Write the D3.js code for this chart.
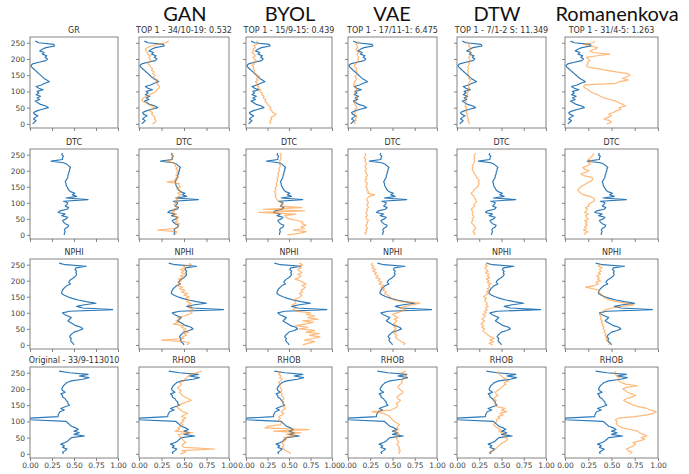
<!DOCTYPE html>
<html>
<head>
<meta charset="utf-8">
<script src="https://cdn.jsdelivr.net/npm/d3@7"></script>
<style>
  html, body { margin: 0; padding: 0; background: #fff; }
  svg { display: block; }
</style>
</head>
<body>
<svg id="chart" width="689" height="474"></svg>
<script>
// Sample index along the well (every 5th sample)
const depth = [0,5,10,15,20,25,30,35,40,45,50,55,60,65,70,75,80,85,90,95,100,105,110,115,120,125,
  130,135,140,145,150,155,160,165,170,175,180,185,190,195,200,205,210,215,220,225,230,235,240,245,250,255];

// Query well 33/9-113010, normalised logs
const grOriginal = [0.03,0.05,0.07,0.04,0.06,0.09,0.05,0.04,0.08,0.14,0.21,0.18,0.12,0.09,0.06,0.11,0.08,0.12,0.07,0.10,
  0.08,0.15,0.10,0.07,0.13,0.17,0.22,0.19,0.16,0.14,0.12,0.10,0.08,0.06,0.04,0.02,0.01,0.03,0.10,0.18,
  0.20,0.17,0.19,0.14,0.16,0.11,0.14,0.18,0.28,0.27,0.10,0.06];
const dtcOriginal = [0.39,0.39,0.40,0.39,0.40,0.43,0.44,0.40,0.38,0.37,0.41,0.43,0.36,0.40,0.32,0.34,0.42,0.44,0.40,0.42,
  0.43,0.38,0.66,0.41,0.53,0.48,0.51,0.46,0.44,0.43,0.42,0.41,0.41,0.40,0.41,0.42,0.43,0.43,0.44,0.44,
  0.45,0.45,0.46,0.44,0.42,0.38,0.24,0.37,0.37,0.38,0.36,0.37];
const nphiOriginal = [0.50,0.49,0.47,0.46,0.47,0.45,0.46,0.48,0.50,0.56,0.60,0.58,0.52,0.49,0.46,0.43,0.45,0.47,0.43,0.39,
  0.37,0.45,0.94,0.60,0.53,0.62,0.75,0.64,0.55,0.48,0.43,0.39,0.36,0.36,0.37,0.38,0.40,0.42,0.46,0.44,
  0.45,0.47,0.50,0.52,0.53,0.52,0.53,0.51,0.52,0.64,0.40,0.33];
const rhobOriginal = [0.38,0.37,0.40,0.42,0.37,0.39,0.35,0.40,0.43,0.45,0.47,0.62,0.50,0.56,0.50,0.55,0.52,0.47,0.45,0.43,
  0.41,0.00,0.00,0.32,0.32,0.33,0.34,0.39,0.35,0.40,0.45,0.43,0.43,0.41,0.40,0.37,0.37,0.35,0.40,0.37,
  0.36,0.37,0.38,0.40,0.42,0.47,0.60,0.67,0.56,0.66,0.45,0.33];

// Top-1 retrieved wells, GR
const ganGR = [0.15,0.18,0.19,0.17,0.18,0.16,0.14,0.15,0.12,0.14,0.17,0.15,0.10,0.08,0.04,0.03,0.05,0.09,0.12,0.16,
  0.19,0.20,0.22,0.23,0.21,0.20,0.19,0.21,0.17,0.16,0.18,0.15,0.17,0.14,0.15,0.13,0.12,0.10,0.11,0.13,
  0.12,0.11,0.13,0.10,0.09,0.08,0.07,0.09,0.14,0.20,0.30,0.33];
const byolGR = [0.27,0.29,0.28,0.30,0.29,0.33,0.35,0.31,0.30,0.28,0.29,0.27,0.25,0.24,0.22,0.23,0.20,0.21,0.18,0.19,
  0.16,0.17,0.14,0.15,0.12,0.13,0.11,0.14,0.12,0.16,0.13,0.11,0.09,0.10,0.08,0.09,0.07,0.10,0.09,0.12,
  0.10,0.08,0.11,0.09,0.07,0.09,0.08,0.11,0.09,0.12,0.14,0.12];
const vaeGR = [0.08,0.07,0.09,0.08,0.10,0.09,0.07,0.08,0.09,0.08,0.10,0.09,0.08,0.07,0.09,0.08,0.10,0.09,0.08,0.07,
  0.08,0.10,0.09,0.07,0.06,0.08,0.07,0.09,0.10,0.08,0.09,0.11,0.10,0.09,0.10,0.08,0.07,0.09,0.10,0.12,
  0.11,0.12,0.11,0.10,0.12,0.10,0.09,0.11,0.10,0.09,0.11,0.12];
const dtwGR = [0.13,0.14,0.12,0.13,0.12,0.11,0.12,0.10,0.11,0.10,0.11,0.09,0.10,0.09,0.10,0.09,0.11,0.10,0.12,0.11,
  0.13,0.12,0.14,0.13,0.14,0.13,0.14,0.15,0.13,0.14,0.13,0.12,0.13,0.12,0.13,0.12,0.13,0.14,0.13,0.15,
  0.14,0.13,0.15,0.14,0.15,0.14,0.16,0.15,0.13,0.14,0.12,0.11];
const romGR = [0.45,0.50,0.48,0.42,0.46,0.50,0.47,0.52,0.55,0.60,0.58,0.65,0.62,0.58,0.55,0.48,0.42,0.38,0.35,0.30,
  0.27,0.25,0.22,0.20,0.21,0.55,0.58,0.68,0.62,0.66,0.70,0.67,0.55,0.45,0.35,0.25,0.23,0.25,0.24,0.27,
  0.25,0.23,0.35,0.48,0.30,0.27,0.32,0.35,0.28,0.20,0.30,0.32];

// Top-1 retrieved wells, DTC
const ganDTC = [0.40,0.41,0.42,0.21,0.40,0.44,0.43,0.45,0.40,0.43,0.41,0.44,0.38,0.42,0.36,0.40,0.38,0.43,0.41,0.39,
  0.42,0.40,0.43,0.41,0.44,0.46,0.43,0.47,0.45,0.42,0.46,0.44,0.45,0.31,0.42,0.40,0.44,0.41,0.43,0.42,
  0.44,0.41,0.43,0.40,0.41,0.39,0.30,0.37,0.36,0.38,0.36,0.37];
const byolDTC = [0.48,0.62,0.70,0.55,0.68,0.64,0.70,0.65,0.66,0.60,0.50,0.47,0.45,0.58,0.15,0.68,0.20,0.65,0.40,0.43,
  0.41,0.38,0.36,0.35,0.34,0.35,0.34,0.33,0.35,0.34,0.35,0.36,0.35,0.36,0.37,0.36,0.37,0.38,0.37,0.38,
  0.39,0.38,0.39,0.40,0.39,0.40,0.39,0.40,0.41,0.40,0.41,0.40];
const vaeDTC = [0.20,0.19,0.21,0.20,0.22,0.21,0.20,0.22,0.21,0.23,0.21,0.20,0.22,0.21,0.20,0.22,0.21,0.23,0.22,0.21,
  0.23,0.22,0.21,0.22,0.24,0.30,0.22,0.23,0.21,0.22,0.20,0.21,0.22,0.20,0.19,0.21,0.20,0.22,0.21,0.20,
  0.19,0.21,0.20,0.19,0.21,0.20,0.19,0.20,0.18,0.19,0.20,0.19];
const dtwDTC = [0.19,0.20,0.18,0.19,0.21,0.20,0.19,0.17,0.16,0.18,0.17,0.19,0.18,0.17,0.18,0.17,0.16,0.18,0.20,0.19,
  0.21,0.22,0.21,0.20,0.19,0.17,0.16,0.18,0.19,0.21,0.23,0.24,0.25,0.24,0.25,0.23,0.22,0.21,0.20,0.19,
  0.18,0.17,0.18,0.17,0.18,0.19,0.20,0.19,0.20,0.19,0.20,0.21];
const romDTC = [0.22,0.21,0.25,0.20,0.23,0.21,0.24,0.22,0.24,0.21,0.25,0.23,0.22,0.25,0.21,0.23,0.24,0.22,0.26,0.25,
  0.28,0.31,0.32,0.30,0.27,0.20,0.17,0.15,0.14,0.15,0.17,0.20,0.23,0.26,0.29,0.30,0.28,0.20,0.17,0.22,
  0.26,0.21,0.19,0.24,0.27,0.25,0.29,0.25,0.27,0.29,0.30,0.31];

// Top-1 retrieved wells, NPHI
const ganNPHI = [0.53,0.56,0.51,0.25,0.50,0.48,0.53,0.50,0.55,0.49,0.52,0.47,0.50,0.38,0.44,0.41,0.45,0.43,0.50,0.55,
  0.59,0.57,0.60,0.56,0.58,0.55,0.58,0.53,0.56,0.52,0.56,0.50,0.54,0.47,0.51,0.45,0.48,0.42,0.46,0.43,
  0.47,0.44,0.50,0.46,0.52,0.47,0.50,0.46,0.52,0.49,0.58,0.56];
const byolNPHI = [0.66,0.72,0.80,0.68,0.78,0.86,0.74,0.85,0.70,0.80,0.62,0.72,0.58,0.68,0.78,0.66,0.84,0.72,0.80,0.70,
  0.75,0.58,0.55,0.58,0.56,0.54,0.58,0.57,0.55,0.60,0.63,0.65,0.62,0.66,0.64,0.67,0.69,0.65,0.70,0.66,
  0.63,0.57,0.62,0.64,0.60,0.65,0.62,0.60,0.64,0.61,0.66,0.62];
const vaeNPHI = [0.62,0.64,0.60,0.57,0.55,0.53,0.55,0.52,0.54,0.51,0.54,0.52,0.55,0.51,0.53,0.55,0.52,0.56,0.53,0.50,
  0.55,0.60,0.65,0.58,0.64,0.72,0.81,0.60,0.52,0.49,0.47,0.45,0.41,0.43,0.39,0.41,0.37,0.40,0.35,0.38,
  0.34,0.36,0.31,0.34,0.30,0.32,0.28,0.31,0.27,0.29,0.26,0.28];
const dtwNPHI = [0.40,0.36,0.41,0.37,0.42,0.38,0.35,0.33,0.31,0.29,0.31,0.28,0.30,0.27,0.29,0.31,0.28,0.30,0.32,0.29,
  0.33,0.31,0.34,0.32,0.35,0.33,0.34,0.32,0.31,0.33,0.30,0.32,0.35,0.33,0.36,0.34,0.37,0.35,0.38,0.34,
  0.36,0.33,0.37,0.34,0.36,0.32,0.35,0.33,0.31,0.34,0.32,0.35];
const romNPHI = [0.47,0.48,0.46,0.45,0.44,0.45,0.43,0.44,0.42,0.43,0.41,0.42,0.40,0.41,0.39,0.40,0.38,0.39,0.38,0.37,
  0.39,0.41,0.44,0.50,0.60,0.74,0.65,0.55,0.48,0.44,0.41,0.40,0.38,0.36,0.37,0.30,0.22,0.32,0.36,0.33,
  0.38,0.35,0.37,0.34,0.38,0.36,0.39,0.37,0.40,0.36,0.38,0.37];

// Top-1 retrieved wells, RHOB
const ganRHOB = [0.46,0.52,0.48,0.84,0.50,0.48,0.49,0.52,0.50,0.48,0.47,0.45,0.44,0.60,0.40,0.45,0.43,0.47,0.49,0.46,
  0.50,0.48,0.52,0.47,0.50,0.54,0.49,0.46,0.44,0.42,0.45,0.48,0.53,0.58,0.55,0.51,0.48,0.47,0.45,0.47,
  0.44,0.43,0.46,0.47,0.45,0.50,0.51,0.53,0.55,0.57,0.64,0.70];
const byolRHOB = [0.52,0.50,0.46,0.44,0.42,0.44,0.43,0.42,0.45,0.47,0.44,0.58,0.47,0.64,0.32,0.73,0.22,0.25,0.40,0.42,
  0.39,0.38,0.40,0.38,0.42,0.44,0.41,0.43,0.46,0.44,0.45,0.43,0.44,0.42,0.44,0.43,0.41,0.42,0.40,0.42,
  0.41,0.40,0.39,0.40,0.38,0.40,0.42,0.39,0.41,0.38,0.40,0.37];
const vaeRHOB = [0.58,0.57,0.59,0.57,0.58,0.56,0.55,0.57,0.56,0.55,0.54,0.56,0.58,0.55,0.52,0.57,0.55,0.56,0.58,0.55,
  0.52,0.50,0.48,0.47,0.44,0.40,0.27,0.48,0.52,0.55,0.56,0.54,0.57,0.59,0.56,0.55,0.57,0.60,0.62,0.60,
  0.58,0.56,0.57,0.59,0.61,0.60,0.62,0.64,0.66,0.63,0.60,0.65];
const dtwRHOB = [0.36,0.38,0.41,0.43,0.45,0.47,0.49,0.52,0.55,0.57,0.54,0.52,0.55,0.50,0.47,0.49,0.45,0.43,0.41,0.42,
  0.45,0.44,0.48,0.46,0.52,0.48,0.56,0.50,0.54,0.46,0.43,0.44,0.42,0.44,0.41,0.43,0.46,0.44,0.43,0.45,
  0.48,0.50,0.52,0.55,0.53,0.58,0.56,0.52,0.50,0.48,0.47,0.46];
const romRHOB = [0.70,0.72,0.68,0.66,0.70,0.74,0.76,0.73,0.80,0.86,0.82,0.88,0.84,0.80,0.78,0.70,0.62,0.58,0.56,0.55,
  0.56,0.54,0.58,0.75,0.88,0.95,0.98,0.92,0.88,0.80,0.74,0.70,0.66,0.63,0.66,0.72,0.76,0.72,0.67,0.65,
  0.62,0.66,0.78,0.65,0.60,0.58,0.57,0.59,0.56,0.54,0.53,0.55];

const methods = ["GAN", "BYOL", "VAE", "DTW", "Romanenkova"];
const firstColTitles = ["GR", "DTC", "NPHI", "Original - 33/9-113010"];
const logNames = ["GR", "DTC", "NPHI", "RHOB"];
const topTitles = ["TOP 1 - 34/10-19: 0.532", "TOP 1 - 15/9-15: 0.439", "TOP 1 - 17/11-1: 6.475",
                   "TOP 1 - 7/1-2 S: 11.349", "TOP 1 - 31/4-5: 1.263"];
const yTicks = [0, 50, 100, 150, 200, 250];
const xTicks = [0, 0.25, 0.5, 0.75, 1];

const originals = [grOriginal, dtcOriginal, nphiOriginal, rhobOriginal];
const matches = [
  [ganGR, byolGR, vaeGR, dtwGR, romGR],
  [ganDTC, byolDTC, vaeDTC, dtwDTC, romDTC],
  [ganNPHI, byolNPHI, vaeNPHI, dtwNPHI, romNPHI],
  [ganRHOB, byolRHOB, vaeRHOB, dtwRHOB, romRHOB]
];

// Panel grid geometry
const colLeft = [30, 139, 246, 348, 457, 565];
const colWidth = [88, 90, 86, 89, 89, 93];
const rowTop = [37, 149, 259, 367];
const rowHeight = [91, 90, 90, 91];
const headerX = [185, 290, 392, 497, 617];

const blue = "#2b78b8";
const orange = "#ff8a1f";

const svg = d3.select("#chart");

// Method headers
svg.selectAll("text.header")
  .data(methods)
  .join("text")
  .attr("class", "header")
  .attr("x", (d, i) => headerX[i])
  .attr("y", 21)
  .attr("text-anchor", "middle")
  .style("font-family", "Lato, 'Open Sans', sans-serif")
  .style("font-size", "20px")
  .style("fill", "#111")
  .text(d => d);

for (let r = 0; r < 4; r++) {
  for (let c = 0; c < 6; c++) {
    const left = colLeft[c], w = colWidth[c];
    const top = rowTop[r], h = rowHeight[r];
    const x = d3.scaleLinear().domain([0, 1]).range([left, left + w]);
    const y = d3.scaleLinear().domain([-12.75, 267.75]).range([top + h, top]);

    const g = svg.append("g");

    // y axis (labels on the first column only)
    const ya = d3.axisLeft(y).tickValues(yTicks).tickSize(3).tickPadding(2)
      .tickFormat(c === 0 ? d3.format("d") : () => "");
    const yg = g.append("g").attr("transform", `translate(${left},0)`).call(ya);

    // x axis (labels on the bottom row only)
    const xa = d3.axisBottom(x).tickValues(xTicks).tickSize(3).tickPadding(2)
      .tickFormat(r === 3 ? d3.format(".2f") : () => "");
    const xg = g.append("g").attr("transform", `translate(0,${top + h})`).call(xa);

    [yg, xg].forEach(a => {
      a.select(".domain").remove();
      a.selectAll(".tick line").attr("stroke", "#666").attr("stroke-width", 0.8);
      a.selectAll(".tick text")
        .style("font-family", "'DejaVu Sans', sans-serif")
        .style("font-size", "7.5px")
        .style("fill", "#444");
    });

    const clipId = `clip-${r}-${c}`;
    g.append("clipPath").attr("id", clipId)
      .append("rect").attr("x", left).attr("y", top).attr("width", w).attr("height", h);

    const line = d3.line()
      .x(d => x(d[1]))
      .y(d => y(d[0]));

    const plot = g.append("g").attr("clip-path", `url(#${clipId})`);
    plot.append("path")
      .datum(depth.map((d, i) => [d, originals[r][i]]))
      .attr("d", line)
      .attr("fill", "none")
      .attr("stroke", blue)
      .attr("stroke-width", 1.15)
      .attr("stroke-linejoin", "round");

    if (c > 0) {
      plot.append("path")
        .datum(depth.map((d, i) => [d, matches[r][c - 1][i]]))
        .attr("d", line)
        .attr("fill", "none")
        .attr("stroke", orange)
        .attr("stroke-opacity", 0.6)
        .attr("stroke-width", 1.2)
        .attr("stroke-linejoin", "round");
    }

    // frame
    g.append("rect")
      .attr("x", left).attr("y", top).attr("width", w).attr("height", h)
      .attr("fill", "none").attr("stroke", "#777").attr("stroke-width", 0.9);

    // panel title
    let title;
    if (c === 0) title = firstColTitles[r];
    else if (r === 0) title = topTitles[c - 1];
    else title = logNames[r];
    g.append("text")
      .attr("x", left + w / 2)
      .attr("y", top - 4)
      .attr("text-anchor", "middle")
      .style("font-family", "'DejaVu Sans', sans-serif")
      .style("font-size", "8px")
      .style("fill", "#333")
      .text(title);
  }
}
</script>
</body>
</html>
